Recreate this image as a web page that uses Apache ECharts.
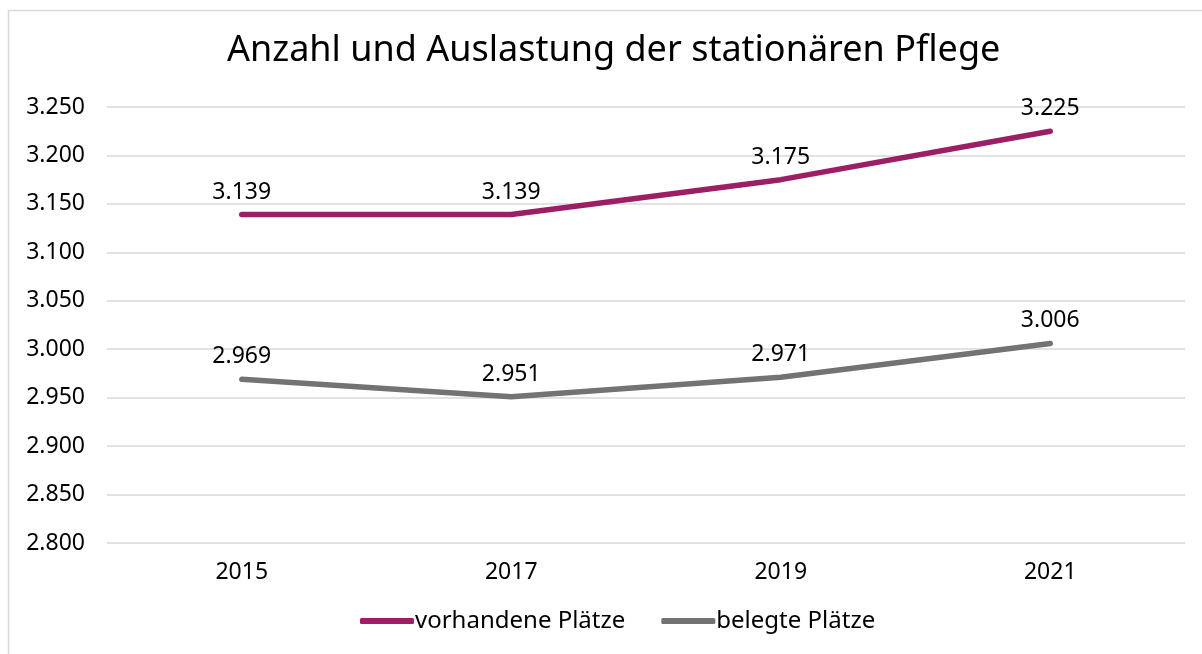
<!DOCTYPE html>
<html>
<head>
<meta charset="utf-8">
<script src="https://cdn.jsdelivr.net/npm/echarts@6/dist/echarts.min.js"></script>
<style>
  html, body { margin: 0; padding: 0; background: #fff; }
  #chart { width: 1202px; height: 654px; }
</style>
</head>
<body>
<div id="chart"></div>
<script>
  // Daten
  const jahre = ["2015", "2017", "2019", "2021"];
  const vorhandenePlaetze = [3139, 3139, 3175, 3225];
  const belegtePlaetze = [2969, 2951, 2971, 3006];

  const fmt = (v) => v.toLocaleString("de-DE");
  const FONT = "Noto Sans";

  const chart = echarts.init(document.getElementById("chart"));

  // gemeinsame Datenbeschriftung
  const dataLabel = {
    show: true,
    position: "top",
    distance: 10,
    fontFamily: FONT,
    fontSize: 23,
    color: "#000",
    formatter: (p) => fmt(p.value),
  };

  chart.setOption({
    textStyle: { fontFamily: FONT },
    animation: false,
    graphic: [
      {
        type: "rect",
        shape: { x: 8.5, y: 10.5, width: 1300, height: 700 },
        style: { fill: "none", stroke: "#d9d9d9", lineWidth: 1.5 },
        silent: true,
      },
    ],
    title: {
      text: "Anzahl und Auslastung der stationären Pflege",
      left: 222,
      top: 28,
      textStyle: { fontFamily: FONT, fontSize: 36, fontWeight: "normal", color: "#000" },
    },
    grid: { left: 107, right: 17, top: 107, bottom: 111 },
    legend: {
      bottom: 16,
      left: 355,
      itemWidth: 54,
      itemHeight: 6,
      itemGap: 36,
      icon: "roundRect",
      textStyle: { fontFamily: FONT, fontSize: 24, color: "#000", padding: [0, 0, 0, -4] },
      data: ["vorhandene Plätze", "belegte Plätze"],
    },
    xAxis: {
      type: "category",
      data: jahre,
      boundaryGap: true,
      axisLine: { show: false },
      axisTick: { show: false },
      axisLabel: { fontFamily: FONT, fontSize: 23, color: "#000", margin: 18 },
    },
    yAxis: {
      type: "value",
      min: 2800,
      max: 3250,
      interval: 50,
      axisLine: { show: false },
      axisTick: { show: false },
      splitLine: { lineStyle: { color: "#d9d9d9", width: 1.5 } },
      axisLabel: { fontFamily: FONT, fontSize: 23, color: "#000", margin: 22, formatter: fmt },
    },
    series: [
      {
        name: "vorhandene Plätze",
        type: "line",
        data: vorhandenePlaetze,
        symbol: "circle",
        symbolSize: 2,
        showSymbol: true,
        lineStyle: { color: "#9c1f65", width: 5.5, cap: "round" },
        itemStyle: { color: "#9c1f65" },
        label: dataLabel,
      },
      {
        name: "belegte Plätze",
        type: "line",
        data: belegtePlaetze,
        symbol: "circle",
        symbolSize: 2,
        showSymbol: true,
        lineStyle: { color: "#737373", width: 5.5, cap: "round" },
        itemStyle: { color: "#737373" },
        label: dataLabel,
      },
    ],
  });
</script>
</body>
</html>
